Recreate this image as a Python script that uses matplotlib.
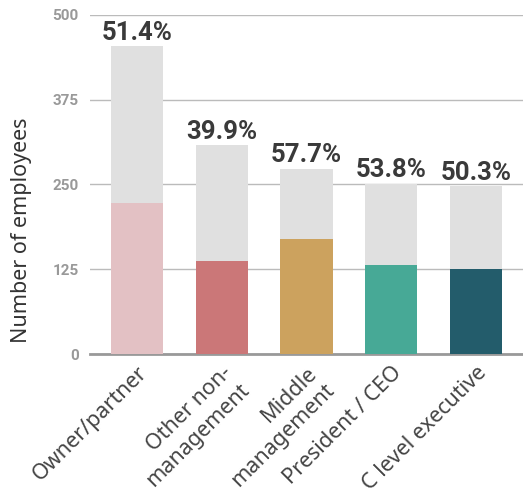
import matplotlib
matplotlib.use("Agg")
import matplotlib.pyplot as plt

categories = ["Owner/partner", "Other non-\nmanagement", "Middle\nmanagement", "President / CEO", "C level executive"]
totals = [454, 308, 273, 251, 247]
subset = [222, 137, 169, 131, 125]
pct_labels = ["51.4%", "39.9%", "57.7%", "53.8%", "50.3%"]
colors = ["#e3c1c4", "#cb7778", "#cca25e", "#47a996", "#235c6b"]
yticks = [0, 125, 250, 375, 500]

fig = plt.figure(figsize=(5.23, 5.01), dpi=100)
ax = fig.add_axes([0.1721, 0.2934, 0.8279, 0.6773])

x = list(range(len(categories)))
width = 0.614
ax.bar(x, totals, width=width, color="#e0e0e0", zorder=2)
ax.bar(x, subset, width=width, color=colors, zorder=3)

for xi, t, lab in zip(x, totals, pct_labels):
    ax.annotate(lab, (xi, t), xytext=(0, 1), textcoords="offset points",
                ha="center", va="bottom", fontsize=18.5, fontweight="bold",
                family="Roboto", color="#3a3a3a")

ax.set_ylim(0, 500)
ax.set_xlim(-0.555, 4.555)
ax.set_yticks(yticks)
ax.set_yticklabels([str(v) for v in yticks], fontsize=11, fontweight="bold",
                   family="Roboto", color="#999999")
ax.tick_params(axis="y", length=0, pad=8)
ax.tick_params(axis="x", length=0, pad=6)
ax.yaxis.grid(True, color="#bbbbbb", linewidth=1, zorder=0)
ax.set_axisbelow(True)
for s in ["left", "right", "top"]:
    ax.spines[s].set_visible(False)
ax.spines["bottom"].set_color("#999999")
ax.spines["bottom"].set_linewidth(2)

ax.set_xticks(x)
ax.set_xticklabels(categories, rotation=45, ha="right", va="top",
                   rotation_mode="anchor", fontsize=15.5, family="Noto Sans",
                   color="#444444")

ax.set_ylabel("Number of employees", fontsize=15.5, family="Noto Sans",
              color="#333333")
ax.yaxis.set_label_coords(-0.134, 0.365)

fig.savefig("out.png", dpi=100)
